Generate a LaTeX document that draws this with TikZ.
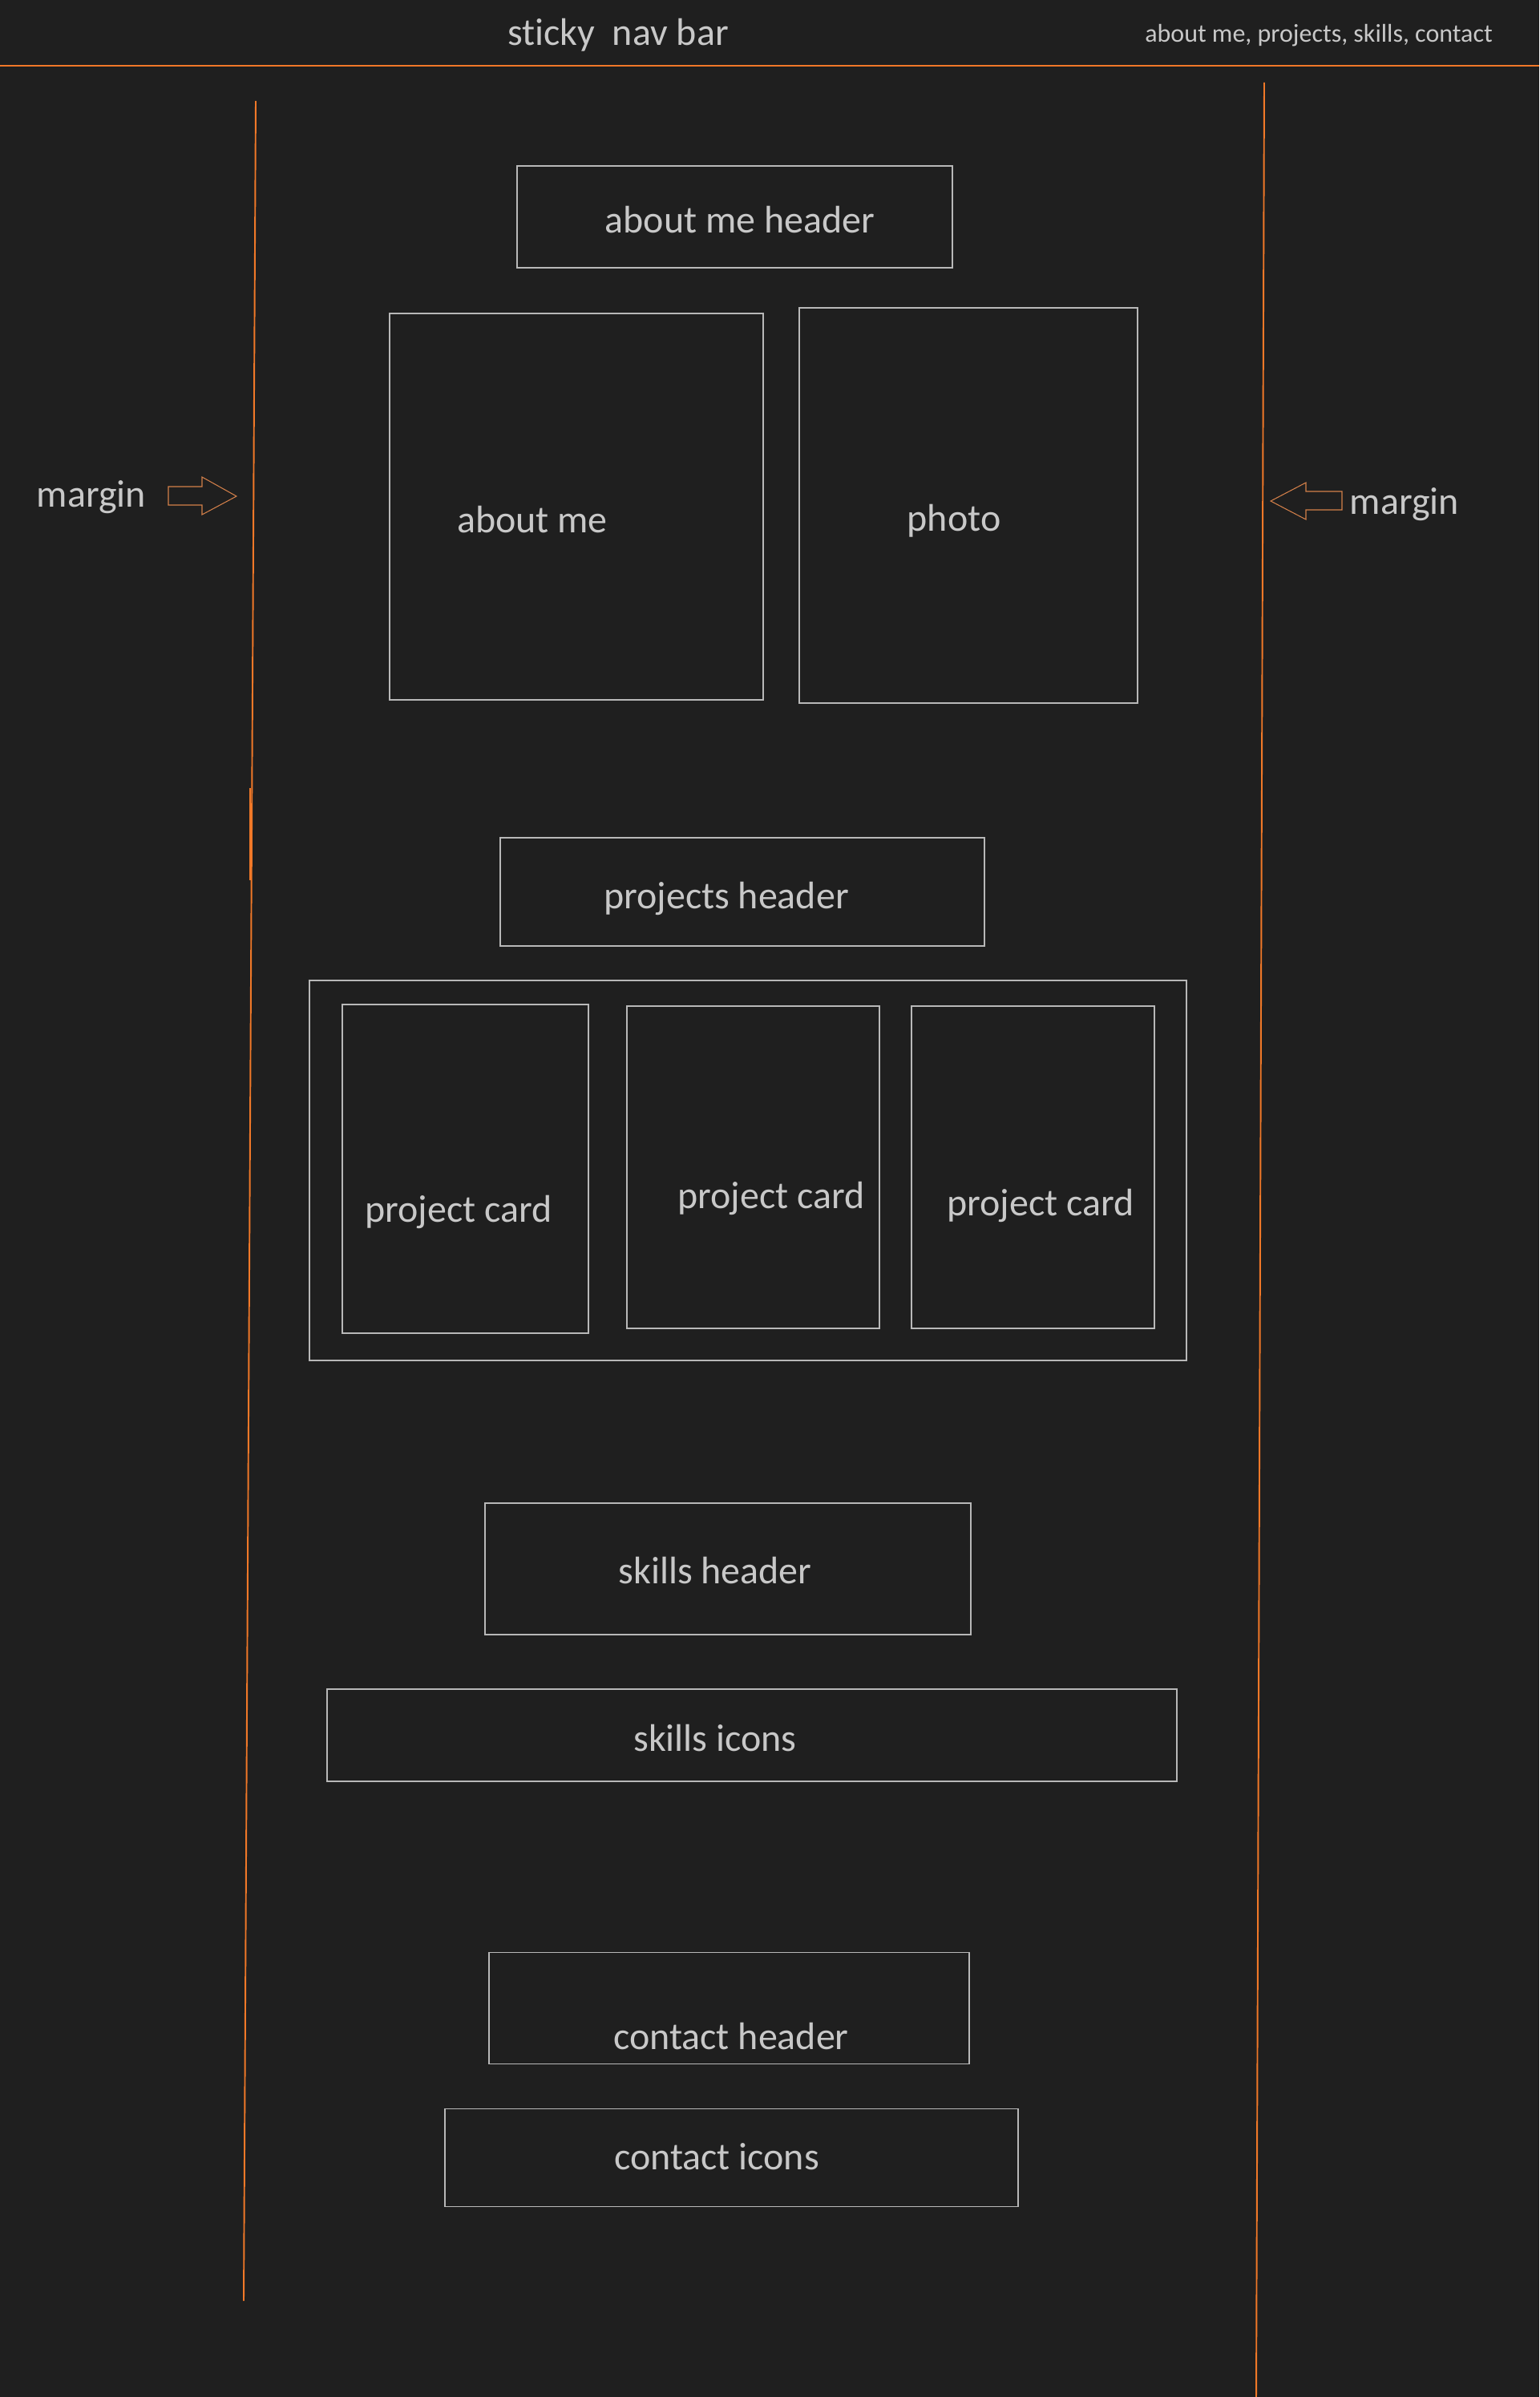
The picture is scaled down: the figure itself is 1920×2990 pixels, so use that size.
\documentclass[tikz,border=0pt]{standalone}
\usepackage{fontspec}
\setmainfont{Carlito}[Ligatures=NoCommon]
\usepackage{tikz}

\definecolor{bg}{HTML}{1F1F1F}
\definecolor{txt}{HTML}{C8C8C8}
\definecolor{boxline}{HTML}{B8B8B8}
\definecolor{marginline}{HTML}{F07828}
\definecolor{arrowline}{HTML}{D4804A}

\begin{document}
\begin{tikzpicture}[x=0.02cm,y=-0.02cm,
	lbl/.style={text=txt,anchor=base,inner sep=0pt,font=\fontsize{27.3}{32}\selectfont},
	smalllbl/.style={lbl,font=\fontsize{18.2}{22}\selectfont},
	box/.style={draw=boxline,line width=0.6pt},
	edge/.style={draw=marginline,line width=1.1pt},
	marrow/.style={draw=arrowline,line width=0.6pt,line join=miter}]
		\fill[bg] (0,0) rectangle (1920,2990);
		\useasboundingbox (0,0) rectangle (1920,2990);

		% nav bar
		\coordinate (navL) at (0,82);
		\coordinate (navR) at (1920,82);
		\draw[edge] (navL)--(navR);
		\node[lbl] (nav) at (771,57) {sticky\ \ nav bar};
		\node[smalllbl] (links) at (1645,53) {about me, projects, skills, contact};

		% margins
		\coordinate (LT) at (319,126);
		\coordinate (LB) at (304,2870);
		\coordinate (RT) at (1577,103);
		\coordinate (RB) at (1567,2990);
		\draw[edge] (LT)--(LB);
		\draw[edge] (RT)--(RB);
		\draw[edge] (312,983)--(312,1098);
		\node[lbl] (mleft) at (114,632) {margin};
		\node[lbl] (mright) at (1752,641) {margin};
		\draw[marrow] (210,607)--(252,607)--(252,595)--(295,619)--(252,642)--(252,630)--(210,630)--cycle;
		\draw[marrow] (1585,625)--(1629,602)--(1629,613)--(1674,613)--(1674,636)--(1629,636)--(1629,648)--cycle;

		% about me
		\draw[box] (645,207) rectangle (1188,334);
		\node[lbl] (abouthdr) at (923,291) {about me header};
		\draw[box] (486,391) rectangle (952,873);
		\node[lbl] (about) at (664,664) {about me};
		\draw[box] (997,384) rectangle (1419,877);
		\node[lbl] (photo) at (1190,662) {photo};

		% projects
		\draw[box] (624,1045) rectangle (1228,1180);
		\node[lbl] (projhdr) at (906,1133) {projects header};
		\draw[box] (386,1223) rectangle (1480,1697);
		\begin{scope}
		\draw[box] (427,1253) rectangle (734,1663);
		\node[lbl] (cardA) at (572,1524) {project card};
		\draw[box] (782,1255) rectangle (1097,1657);
		\node[lbl] (cardB) at (962,1507) {project card};
		\draw[box] (1137,1255) rectangle (1440,1657);
		\node[lbl] (cardC) at (1298,1516) {project card};
		\end{scope}

		% skills
		\draw[box] (605,1875) rectangle (1211,2039);
		\node[lbl] (skillhdr) at (892,1975) {skills header};
		\draw[box] (408,2107) rectangle (1468,2222);
		\node[lbl] (skillicons) at (892,2184) {skills icons};

		% contact
		\draw[box] (610,2435) rectangle (1209,2574);
		\node[lbl] (contacthdr) at (912,2556) {contact header};
		\draw[box] (555,2630) rectangle (1270,2752);
		\node[lbl] (contacticons) at (894,2706) {contact icons};
\end{tikzpicture}
\end{document}
